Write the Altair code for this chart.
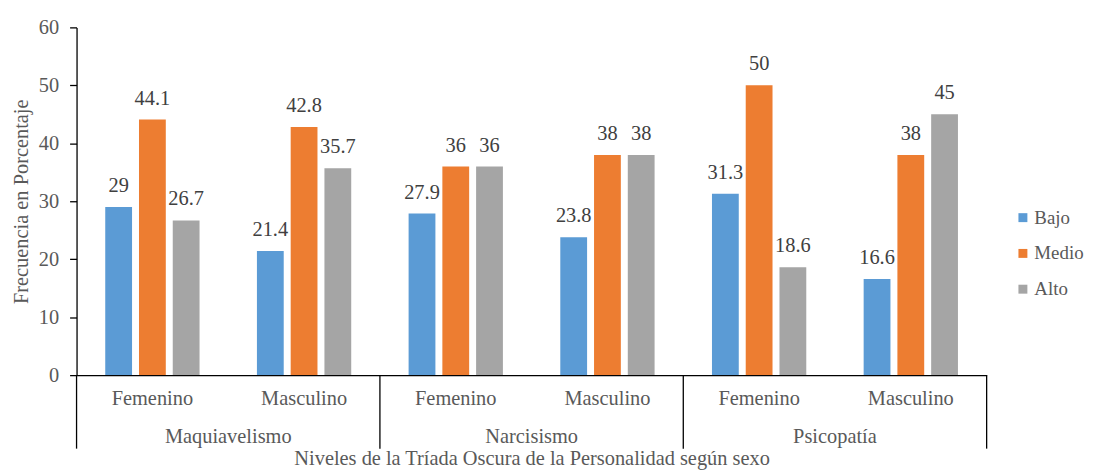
import altair as alt
import pandas as pd

traits = ["Maquiavelismo", "Narcisismo", "Psicopatía"]
sexes = ["Femenino", "Masculino"]
levels = ["Bajo", "Medio", "Alto"]
colors = ["#5B9BD5", "#ED7D31", "#A5A5A5"]

bajo = [29, 21.4, 27.9, 23.8, 31.3, 16.6]
medio = [44.1, 42.8, 36, 38, 50, 38]
alto = [26.7, 35.7, 36, 38, 18.6, 45]

keys = [f"{t}|{s}" for t in traits for s in sexes]
rows = []
for i, k in enumerate(keys):
    for lev, vals in zip(levels, [bajo, medio, alto]):
        rows.append({"key": k, "level": lev, "value": vals[i]})
df = pd.DataFrame(rows)

trait_df = pd.DataFrame({"key": [f"{t}|Femenino" for t in traits], "trait": traits})
edge_df = pd.DataFrame({"key": [f"{t}|Femenino" for t in traits]})
end_df = pd.DataFrame({"key": [keys[-1]]})

FONT = "Liberation Serif"
GRAY = "#595959"
FS = 20.5

xscale = alt.Scale(paddingInner=0, paddingOuter=0)
x_enc = alt.X(
    "key:N", sort=keys, scale=xscale,
    axis=alt.Axis(
        title="Niveles de la Tríada Oscura de la Personalidad según sexo",
        labelExpr="split(datum.label, '|')[1]", labelAngle=0,
        ticks=False, tickSize=0, labelPadding=14, labelFontSize=FS, labelFont=FONT,
        labelColor=GRAY, titleColor=GRAY, titleFontSize=FS, titleFont=FONT,
        titleFontWeight="normal", titleY=84, titleBaseline="middle",
        domainColor="#000000", domainWidth=1.3,
    ),
)
xoff = alt.XOffset("level:N", sort=levels, scale=alt.Scale(paddingInner=0.206, paddingOuter=0.85))
y_enc = alt.Y(
    "value:Q", scale=alt.Scale(domain=[0, 60]),
    axis=alt.Axis(
        title="Frecuencia en Porcentaje", values=[0, 10, 20, 30, 40, 50, 60],
        grid=False, tickSize=7, tickColor="#000000", tickWidth=1.3,
        domainColor="#000000", domainWidth=1.3,
        labelFontSize=FS, labelFont=FONT, labelColor=GRAY, labelPadding=11,
        titleFontSize=FS, titleFont=FONT, titleColor=GRAY, titleFontWeight="normal",
        titlePadding=7,
    ),
)

bars = alt.Chart(df).mark_bar().encode(
    x=x_enc, xOffset=xoff, y=y_enc,
    color=alt.Color(
        "level:N", sort=levels, scale=alt.Scale(domain=levels, range=colors),
        legend=alt.Legend(
            title=None, orient="none", legendX=943, legendY=182,
            symbolType="square", symbolSize=81, symbolStrokeWidth=0,
            labelFontSize=19, labelFont=FONT, labelColor=GRAY, labelOffset=2,
            rowPadding=16, labelLimit=300,
        ),
    ),
)

labels = alt.Chart(df).mark_text(
    baseline="alphabetic", dy=-15, fontSize=FS, color="#404040", font=FONT
).encode(x=alt.X("key:N", sort=keys), xOffset=xoff, y="value:Q",
         text=alt.Text("value:Q", format=".1~f"))

trait_text = alt.Chart(trait_df).mark_text(
    fontSize=FS, color=GRAY, font=FONT, baseline="middle"
).encode(x=alt.X("key:N", sort=keys, bandPosition=1), y=alt.value(412), text="trait:N")

edges = alt.Chart(edge_df).mark_rule(color="#000000", strokeWidth=1.3).encode(
    x=alt.X("key:N", sort=keys, bandPosition=0), y=alt.value(350), y2=alt.value(424)
)
end_edge = alt.Chart(end_df).mark_rule(color="#000000", strokeWidth=1.3).encode(
    x=alt.X("key:N", sort=keys, bandPosition=1), y=alt.value(350), y2=alt.value(424)
)

chart = alt.layer(bars, labels, trait_text, edges, end_edge).properties(
    width=916, height=350,
    autosize=alt.AutoSizeParams(type="none"),
    padding={"left": 69, "top": 18, "right": 100, "bottom": 96},
).configure(font=FONT).configure_view(stroke=None).configure_legend(
    labelFont=FONT, labelFontSize=19
).configure_axis(labelFont=FONT, titleFont=FONT)

chart.save("out.html", embed_options={"renderer": "svg", "actions": False})
